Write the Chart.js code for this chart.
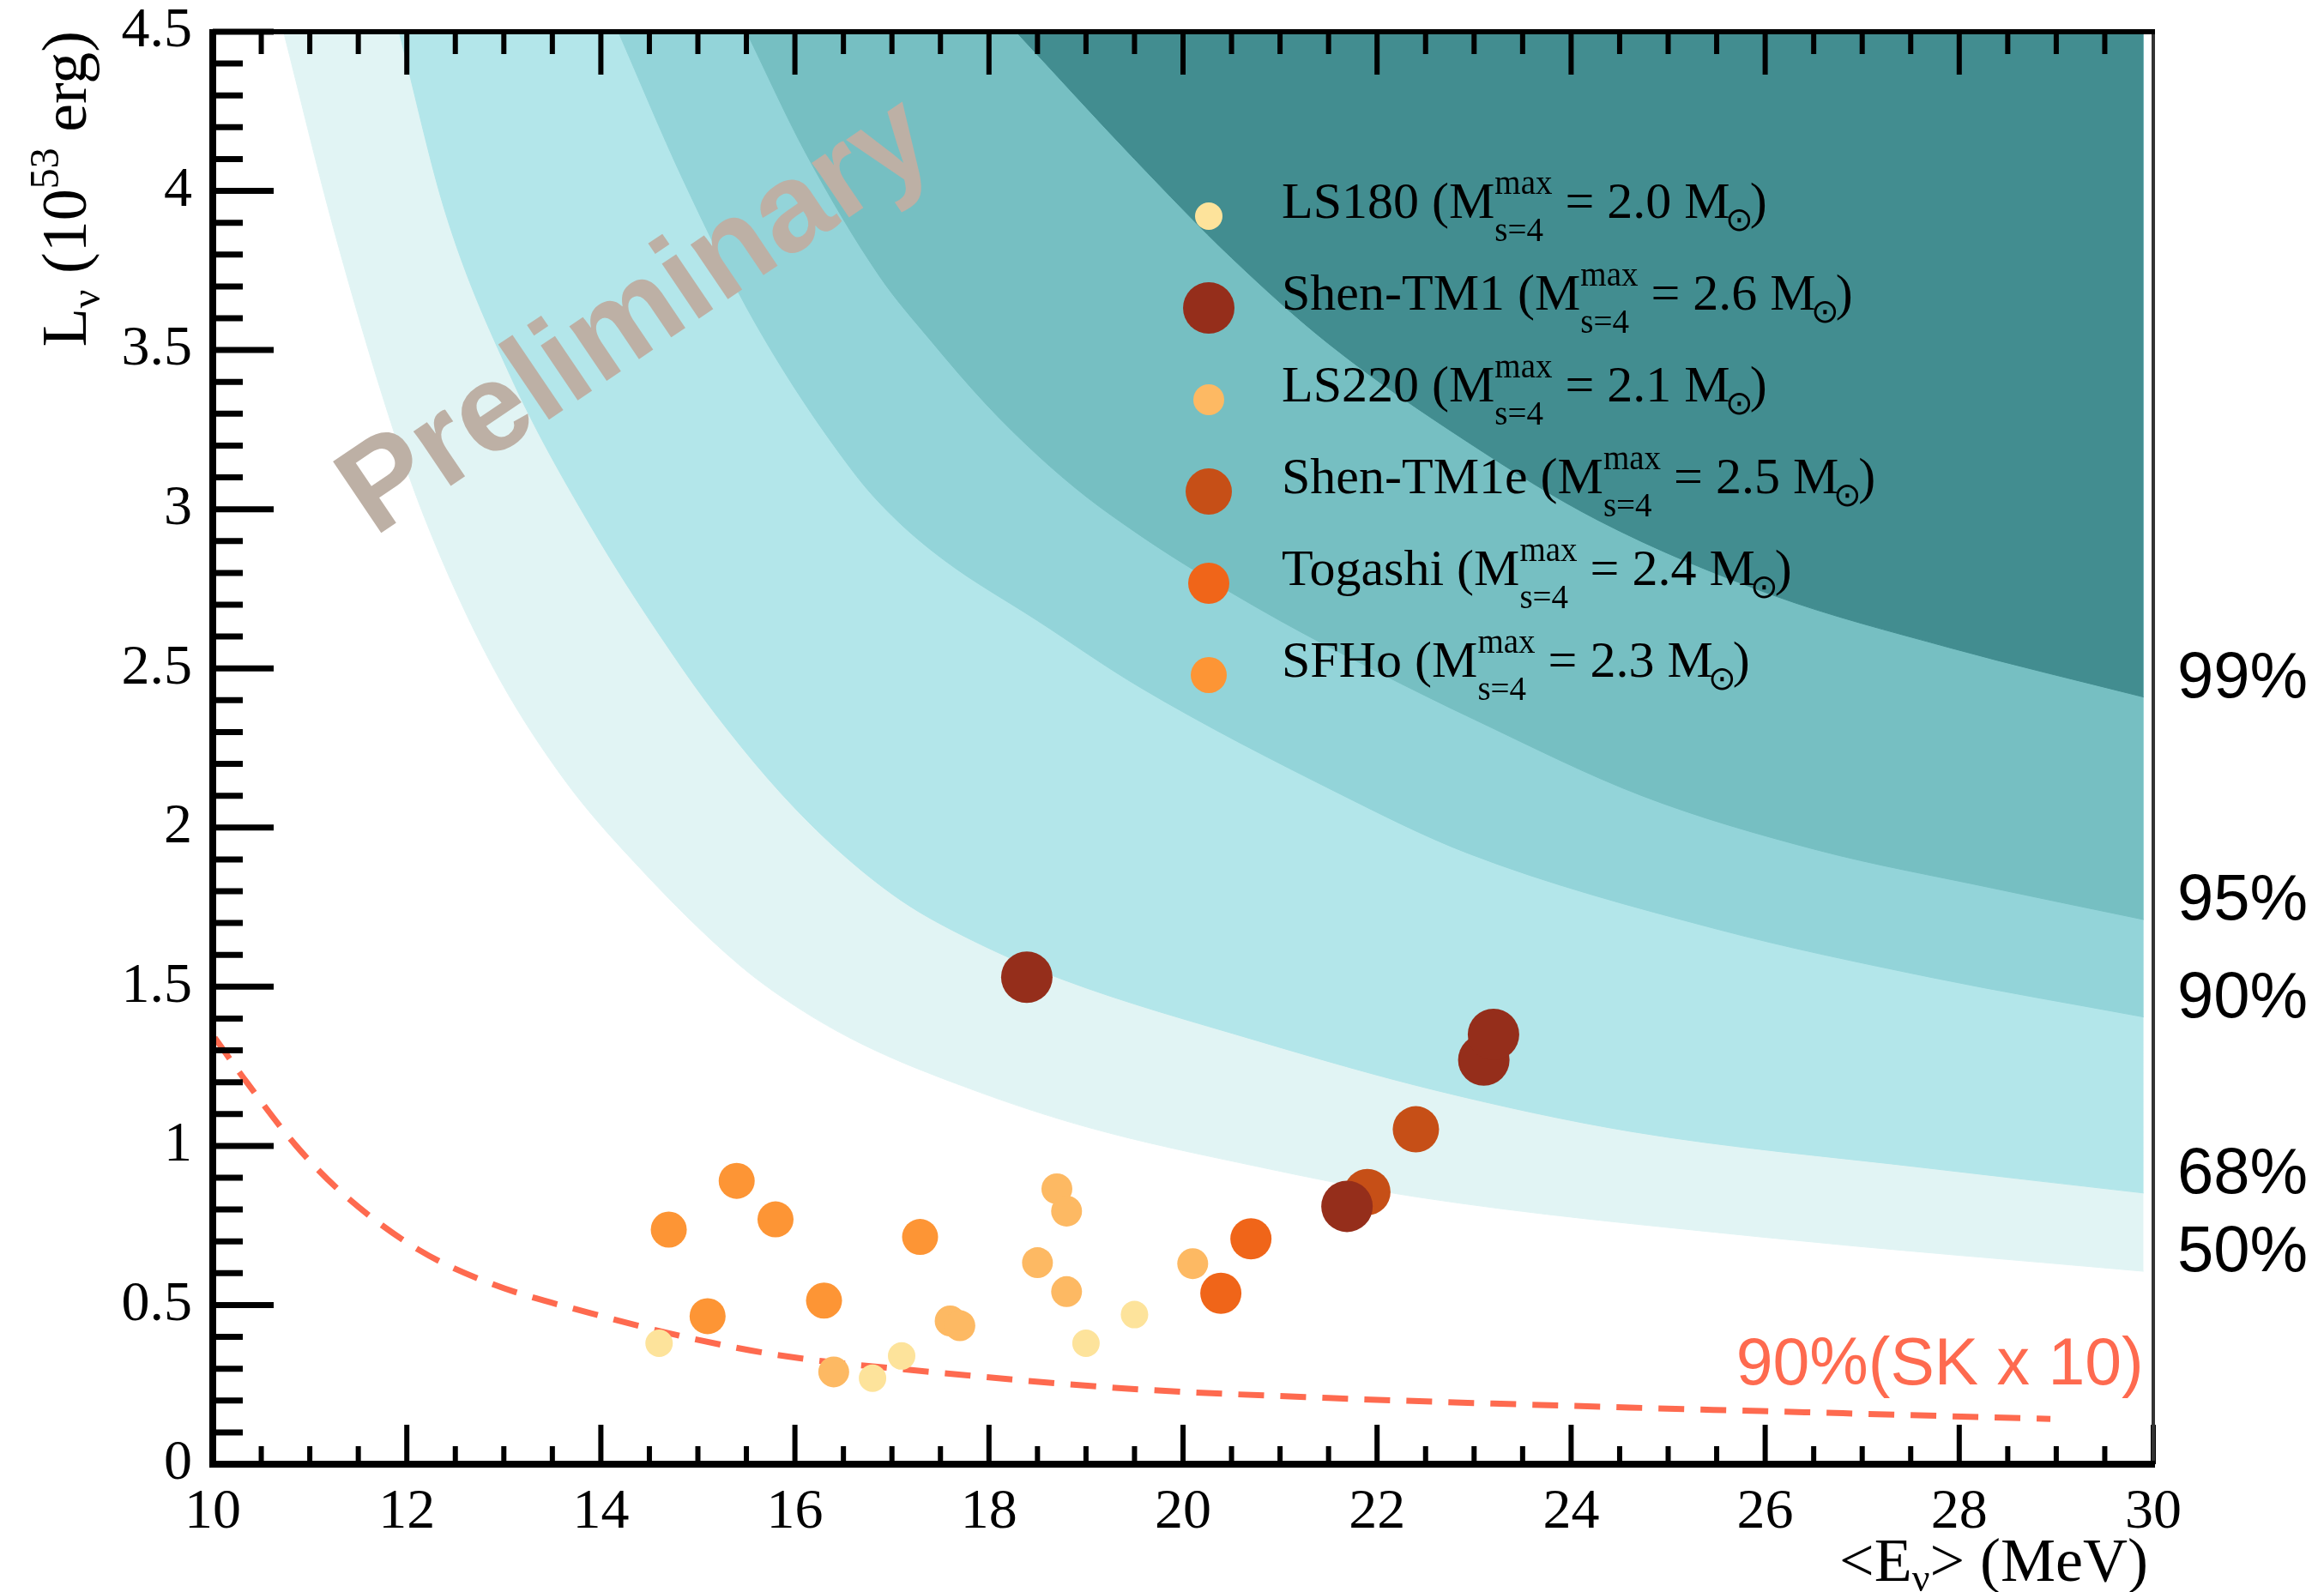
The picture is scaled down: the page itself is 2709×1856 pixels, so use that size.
<!DOCTYPE html>
<html>
<head>
<meta charset="utf-8">
<script src="https://cdn.jsdelivr.net/npm/chart.js@4.4.1/dist/chart.umd.min.js"></script>
<style>
  html, body { margin: 0; padding: 0; background: #fff; }
  canvas { display: block; }
</style>
</head>
<body>
<canvas id="c" width="2709" height="1856"></canvas>
<script>
// axis ticks
const xTicks = [10, 12, 14, 16, 18, 20, 22, 24, 26, 28, 30];
const yTicks = [0, 0.5, 1, 1.5, 2, 2.5, 3, 3.5, 4, 4.5];

// confidence level contours (E in MeV, L in 10^53 erg)
const clLevels = ['50%', '68%', '90%', '95%', '99%'];
const cl50E = [10.73, 11.24, 11.84, 12.2, 12.86, 13.6, 14.41, 15.42, 16.0, 16.69, 17.8, 19.0, 20.77, 22.4, 25.95, 29.9];
const cl50L = [4.5, 3.888, 3.269, 2.96, 2.52, 2.16, 1.87, 1.57, 1.44, 1.32, 1.18, 1.06, 0.935, 0.84, 0.714, 0.606];
const cl68E = [11.92, 12.4, 13.06, 13.87, 14.84, 15.3, 15.85, 16.44, 17.1, 17.8, 18.74, 20.77, 22.6, 24.62, 27.68, 29.9];
const cl68L = [4.5, 3.93, 3.424, 2.96, 2.5, 2.31, 2.11, 1.93, 1.77, 1.65, 1.525, 1.33, 1.175, 1.045, 0.93, 0.852];
const cl90E = [14.18, 14.84, 15.6, 16.61, 17.0, 17.53, 18.5, 19.56, 21.59, 22.93, 25.49, 27.7, 29.9];
const cl90L = [4.5, 4.04, 3.58, 3.114, 2.98, 2.842, 2.65, 2.44, 2.11, 1.92, 1.682, 1.53, 1.405];
const cl95E = [15.5, 16.11, 16.87, 17.4, 17.97, 18.5, 19.0, 19.5, 20.0, 21.0, 22.0, 23.0, 24.73, 26.53, 28.34, 29.9];
const cl95L = [4.5, 4.12, 3.733, 3.53, 3.33, 3.17, 3.04, 2.93, 2.83, 2.65, 2.49, 2.34, 2.1, 1.93, 1.81, 1.711];
const cl99E = [18.28, 19.5, 20.5, 21.5, 22.93, 24.28, 26.08, 27.89, 29.9];
const cl99L = [4.5, 4.1, 3.79, 3.52, 3.212, 2.965, 2.73, 2.566, 2.41];

// 90% line for SK x 10
const skE = [10.02, 10.35, 10.86, 11.36, 12.12, 12.88, 13.9, 14.92, 15.93, 17.4, 19.4, 21.5, 24.6, 26.8, 28.94];
const skL = [1.34, 1.2, 1.0, 0.845, 0.674, 0.566, 0.474, 0.396, 0.338, 0.29, 0.238, 0.208, 0.178, 0.16, 0.142];

// EOS models
const models = ['LS180', 'Shen-TM1', 'LS220', 'Shen-TM1e', 'Togashi', 'SFHo'];
const maxMass = ['2.0', '2.6', '2.1', '2.5', '2.4', '2.3'];

const ls180E = [14.6, 16.8, 17.1, 19.0, 19.5];
const ls180L = [0.38, 0.27, 0.34, 0.38, 0.47];
const tm1E = [18.39, 21.69, 23.1, 23.2];
const tm1L = [1.53, 0.81, 1.27, 1.35];
const ls220E = [16.4, 17.6, 17.7, 18.5, 18.7, 18.8, 18.8, 20.1];
const ls220L = [0.29, 0.45, 0.435, 0.633, 0.865, 0.795, 0.542, 0.63];
const tm1eE = [21.9, 22.4];
const tm1eL = [0.855, 1.052];
const togashiE = [20.39, 20.7];
const togashiL = [0.537, 0.708];
const sfhoE = [14.7, 15.1, 15.4, 15.8, 16.3, 17.29];
const sfhoL = [0.737, 0.465, 0.89, 0.769, 0.514, 0.714];

// styles
const clColors = ['#e1f4f4', '#b3e6ea', '#93d4d9', '#76bfc2', '#428d90'];
const modelColors = ['#fde39b', '#952e1b', '#fdb963', '#c64f17', '#f06519', '#fd9535'];
const modelRadius = [16, 30, 18, 27, 24, 21];
const modelOrder = [5, 0, 4, 1, 2, 3];   // Shen-TM1 on top

const serif = "'Liberation Serif', 'Times New Roman', serif";
const sans = "'Liberation Sans', Arial, sans-serif";

function pts(E, L) {
  return E.map((e, i) => ({ x: e, y: L[i] }));
}

function band(E, L, i) {
  return {
    type: 'line',
    data: pts(E, L),
    fill: 'end',
    backgroundColor: clColors[i],
    borderColor: clColors[i],
    borderWidth: 1,
    pointRadius: 0,
    cubicInterpolationMode: 'monotone',
    order: 20 - i
  };
}

function model(i, E, L) {
  return {
    label: models[i],
    data: pts(E, L),
    backgroundColor: modelColors[i],
    borderWidth: 0,
    pointRadius: modelRadius[i],
    pointHoverRadius: modelRadius[i],
    order: modelOrder[i]
  };
}

// text with sub/superscripts: parts are {t}, {sub}, {sup}, {sup, sub} stacked, {sun}
function richWidth(ctx, parts, big, small) {
  let w = 0;
  for (const p of parts) {
    if (p.t !== undefined) { ctx.font = big; w += ctx.measureText(p.t).width; }
    else if (p.sun) { ctx.font = small; w += ctx.measureText('⊙').width - 10; }
    else {
      ctx.font = small;
      w += Math.max(p.sup ? ctx.measureText(p.sup).width : 0, p.sub ? ctx.measureText(p.sub).width : 0);
    }
  }
  return w;
}

function drawRich(ctx, parts, x, y, size, smallSize, supUp, subDown) {
  const big = size + 'px ' + serif;
  const small = smallSize + 'px ' + serif;
  let cx = x;
  ctx.textAlign = 'left';
  ctx.textBaseline = 'alphabetic';
  for (const p of parts) {
    if (p.t !== undefined) {
      ctx.font = big;
      ctx.fillText(p.t, cx, y);
      cx += ctx.measureText(p.t).width;
    } else if (p.sun) {
      ctx.font = small;
      ctx.fillText('⊙', cx - 6, y + subDown * 0.55);
      cx += ctx.measureText('⊙').width - 10;
    } else {
      ctx.font = small;
      let w = 0;
      if (p.sup) { ctx.fillText(p.sup, cx, y - supUp); w = Math.max(w, ctx.measureText(p.sup).width); }
      if (p.sub) { ctx.fillText(p.sub, cx, y + subDown); w = Math.max(w, ctx.measureText(p.sub).width); }
      cx += w;
    }
  }
}

const decorPlugin = {
  id: 'decor',
  afterDatasetsDraw(chart) {
    const { ctx, chartArea: a, scales: { x, y } } = chart;
    ctx.save();

    // watermark
    ctx.save();
    ctx.translate(x.getPixelForValue(14.38), y.getPixelForValue(3.6));
    ctx.rotate(-34 * Math.PI / 180);
    ctx.font = 'bold 146px ' + sans;
    ctx.fillStyle = '#bdb0a5';
    ctx.textAlign = 'center';
    ctx.textBaseline = 'middle';
    ctx.fillText('Preliminary', 0, 0);
    ctx.restore();

    // legend
    const legX = 1409, legY = 252, legStep = 107;
    models.forEach((m, i) => {
      const cy = legY + i * legStep;
      ctx.beginPath();
      ctx.arc(legX, cy, modelRadius[i], 0, Math.PI * 2);
      ctx.fillStyle = modelColors[i];
      ctx.fill();
      ctx.fillStyle = '#000';
      drawRich(ctx, [
        { t: m + ' (M' }, { sup: 'max', sub: 's=4' },
        { t: ' = ' + maxMass[i] + ' M' }, { sun: true }, { t: ')' }
      ], legX + 85, cy + 2, 60, 39, 28, 27);
    });

    // confidence level labels at the right end of each contour
    const cls = [cl50L, cl68L, cl90L, cl95L, cl99L];
    ctx.font = '76px ' + sans;
    ctx.fillStyle = '#000';
    ctx.textAlign = 'left';
    ctx.textBaseline = 'alphabetic';
    clLevels.forEach((lab, i) => {
      const L = cls[i];
      ctx.fillText(lab, a.right + 28, y.getPixelForValue(L[L.length - 1]));
    });

    // SK label
    ctx.font = '77px ' + sans;
    ctx.fillStyle = '#fe6a4f';
    ctx.textAlign = 'right';
    ctx.fillText('90%(SK x 10)', x.getPixelForValue(29.9), y.getPixelForValue(0.25));

    // frame and inner ticks
    ctx.strokeStyle = '#000';
    ctx.lineCap = 'butt';
    ctx.lineWidth = 7;
    for (let i = 0; i <= 45; i++) {
      const py = y.getPixelForValue(i / 10);
      const len = i % 5 === 0 ? 71 : 35;
      ctx.beginPath(); ctx.moveTo(a.left, py); ctx.lineTo(a.left + len, py); ctx.stroke();
    }
    ctx.lineWidth = 6;
    for (let i = 1; i <= 40; i++) {
      const px = x.getPixelForValue(10 + i * 0.5);
      const major = i % 4 === 0;
      ctx.beginPath(); ctx.moveTo(px, a.bottom); ctx.lineTo(px, a.bottom - (major ? 46 : 21)); ctx.stroke();
      if (i < 40) {
        ctx.beginPath(); ctx.moveTo(px, a.top); ctx.lineTo(px, a.top + (major ? 50 : 26)); ctx.stroke();
      }
    }
    ctx.lineWidth = 4;
    ctx.strokeStyle = '#333';
    ctx.beginPath(); ctx.moveTo(a.right, a.top); ctx.lineTo(a.right, a.bottom); ctx.stroke();
    ctx.strokeStyle = '#000';
    ctx.lineWidth = 6;
    ctx.beginPath(); ctx.moveTo(a.left, a.top); ctx.lineTo(a.right + 2, a.top); ctx.stroke();
    ctx.lineWidth = 8;
    ctx.beginPath(); ctx.moveTo(a.left, a.top - 3); ctx.lineTo(a.left, a.bottom); ctx.lineTo(a.right + 2, a.bottom); ctx.stroke();

    // axis titles
    ctx.fillStyle = '#000';
    const xt = [{ t: '<E' }, { sub: 'ν' }, { t: '> (MeV)' }];
    const xw = richWidth(ctx, xt, '72px ' + serif, '46px ' + serif);
    drawRich(ctx, xt, 2504 - xw, 1843, 72, 46, 30, 12);

    const yt = [{ t: 'L' }, { sub: 'ν' }, { t: ' (10' }, { sup: '53' }, { t: ' erg)' }];
    const yw = richWidth(ctx, yt, '74px ' + serif, '48px ' + serif);
    ctx.save();
    ctx.translate(100, 36);
    ctx.rotate(-Math.PI / 2);
    drawRich(ctx, yt, -yw, 0, 74, 48, 32, 16);
    ctx.restore();

    ctx.restore();
  }
};

new Chart(document.getElementById('c'), {
  type: 'scatter',
  data: {
    datasets: [
      model(0, ls180E, ls180L),
      model(1, tm1E, tm1L),
      model(2, ls220E, ls220L),
      model(3, tm1eE, tm1eL),
      model(4, togashiE, togashiL),
      model(5, sfhoE, sfhoL),
      {
        type: 'line',
        label: '90%(SK x 10)',
        data: pts(skE, skL),
        borderColor: '#fe6a4f',
        borderWidth: 7,
        borderDash: [30, 19],
        pointRadius: 0,
        fill: false,
        cubicInterpolationMode: 'monotone',
        order: 8
      },
      band(cl50E, cl50L, 0),
      band(cl68E, cl68L, 1),
      band(cl90E, cl90L, 2),
      band(cl95E, cl95L, 3),
      band(cl99E, cl99L, 4)
    ]
  },
  options: {
    responsive: false,
    animation: false,
    devicePixelRatio: 1,
    layout: { padding: { top: 37, right: 199, left: 0, bottom: 0 } },
    plugins: { legend: { display: false }, tooltip: { enabled: false } },
    scales: {
      x: {
        type: 'linear', min: 10, max: 30,
        grid: { display: false, drawTicks: false },
        border: { display: false },
        ticks: {
          font: { family: serif, size: 66 }, color: '#000', padding: 17,
          autoSkip: false, maxRotation: 0, callback: v => String(v)
        },
        afterBuildTicks: s => { s.ticks = xTicks.map(v => ({ value: v })); },
        afterFit: s => { s.height = 149; s.paddingLeft = 0; s.paddingRight = 0; }
      },
      y: {
        type: 'linear', min: 0, max: 4.5,
        grid: { display: false, drawTicks: false },
        border: { display: false },
        ticks: {
          font: { family: serif, size: 66 }, color: '#000', padding: 24,
          autoSkip: false, callback: v => String(v)
        },
        afterBuildTicks: s => { s.ticks = yTicks.map(v => ({ value: v })); },
        afterFit: s => { s.width = 248; s.paddingTop = 0; s.paddingBottom = 0; }
      }
    }
  },
  plugins: [decorPlugin]
});
</script>
</body>
</html>
